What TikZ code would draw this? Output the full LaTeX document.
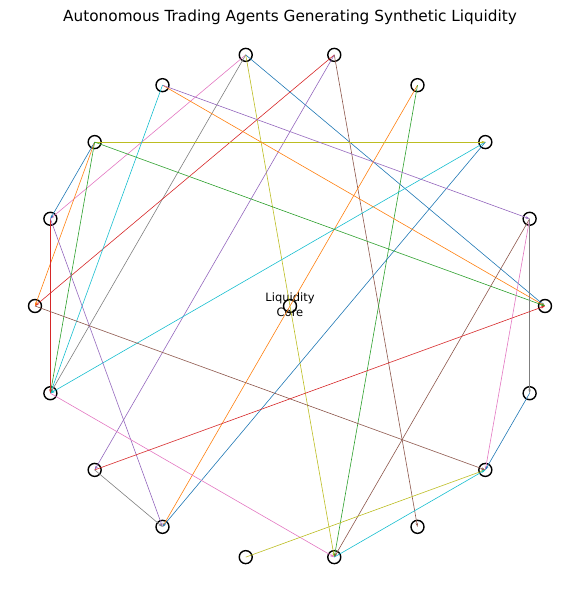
\documentclass[tikz,border=0pt]{standalone}
\usepackage{fontspec}
\setmainfont{DejaVu Sans}
\usetikzlibrary{arrows.meta}

\definecolor{tabblue}{HTML}{1F77B4}
\definecolor{taborange}{HTML}{FF7F0E}
\definecolor{tabgreen}{HTML}{2CA02C}
\definecolor{tabred}{HTML}{D62728}
\definecolor{tabpurple}{HTML}{9467BD}
\definecolor{tabbrown}{HTML}{8C564B}
\definecolor{tabpink}{HTML}{E377C2}
\definecolor{tabgray}{HTML}{7F7F7F}
\definecolor{tabolive}{HTML}{BCBD22}
\definecolor{tabcyan}{HTML}{17BECF}

\tikzset{
  agent/.style={circle, draw=black, line width=1.4pt, minimum size=13pt, inner sep=0pt},
  link/.style={-{Stealth[length=4pt, width=2.5pt]}, line width=0.6pt}
}

\begin{document}
\begin{tikzpicture}[x=1pt, y=-1pt]
  \useasboundingbox (0,0) rectangle (580,592);

  % Title
  \node[font=\fontsize{15.3}{17}\selectfont] (title) at (290,17)
    {Autonomous Trading Agents Generating Synthetic Liquidity};

  % Agents on the ring
  \foreach \k in {0,...,17} {
    \node[agent] (a\k) at ({290+255*cos(20*\k)}, {306-255*sin(20*\k)}) {};
  }

  % Central core
  \node[agent] (core) at (290,306) {};
  \node[font=\fontsize{11.5}{15}\selectfont, align=center] (corelabel) at (290,305)
    {Liquidity\\Core};

  % Trades between agents
  \foreach \s/\t/\c in {5/8/tabpink, 5/10/tabgray, 5/14/tabolive, 5/0/tabblue,
      4/9/tabred, 4/11/tabpurple, 4/15/tabbrown, 3/12/taborange, 3/14/tabgreen,
      2/10/tabcyan, 2/12/tabblue, 7/2/tabolive, 6/0/taborange, 6/1/tabpurple,
      6/10/tabcyan, 7/0/tabgreen, 7/8/tabblue, 7/9/taborange, 7/10/tabgreen,
      1/14/tabbrown, 1/16/tabpink, 1/17/tabgray, 8/10/tabred, 8/12/tabpurple,
      9/16/tabbrown, 10/14/tabpink, 11/0/tabred, 11/12/tabgray, 13/16/tabolive,
      14/16/tabcyan, 17/16/tabblue} {
    \draw[link, \c] (a\s.center) -- (a\t.center);
  }
\end{tikzpicture}
\end{document}
